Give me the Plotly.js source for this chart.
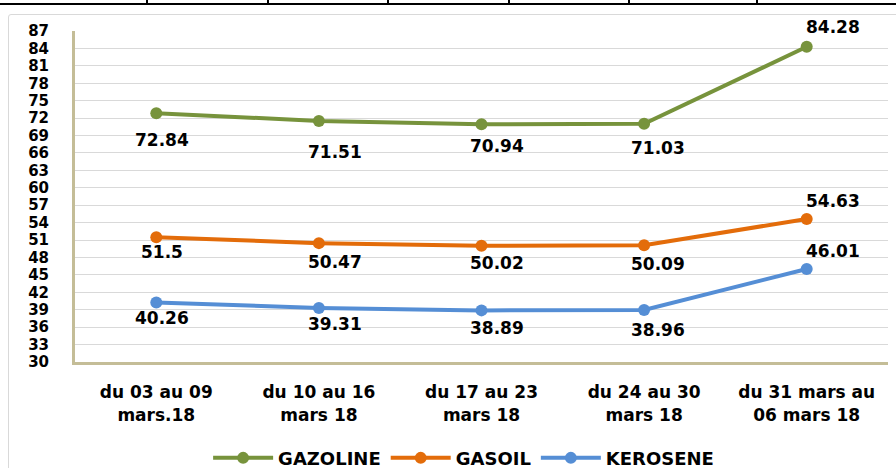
<!DOCTYPE html>
<html>
<head>
<meta charset="utf-8">
<script src="https://cdn.plot.ly/plotly-3.0.1.min.js"></script>
<style>
  html, body { margin:0; padding:0; background:#fff; }
  #wrap { position:relative; width:896px; height:468px; overflow:hidden; }
  #chart { position:absolute; left:0; top:0; width:896px; height:468px; }
  .frame { position:absolute; left:8px; top:14px; width:900px; height:470px; border:1px solid #d9d9d9; border-radius:3px; pointer-events:none; }
  .topline { position:absolute; left:0; top:3px; width:896px; height:2px; background:#000; }
  .tick { position:absolute; top:0; width:2px; height:4px; background:#000; }
</style>
</head>
<body>
<div id="wrap">
  <div class="topline"></div>
  <div class="tick" style="left:146px"></div>
  <div class="tick" style="left:267px"></div>
  <div class="tick" style="left:387px"></div>
  <div class="tick" style="left:508px"></div>
  <div class="tick" style="left:628px"></div>
  <div class="tick" style="left:756px"></div>
  <div class="frame"></div>
  <div id="chart"></div>
</div>
<script>
// ---- data ----
var categories = [
  "du 03 au 09<br>mars.18",
  "du 10 au 16<br>mars 18",
  "du 17 au 23<br>mars 18",
  "du 24 au 30<br>mars 18",
  "du 31 mars au<br>06 mars 18"
];
var gazoline = [72.84, 71.51, 70.94, 71.03, 84.28];
var gasoil   = [51.5, 50.47, 50.02, 50.09, 54.63];
var kerosene = [40.26, 39.31, 38.89, 38.96, 46.01];
var yTickValues = [30,33,36,39,42,45,48,51,54,57,60,63,66,69,72,75,78,81,84,87];

// ---- styling ----
var FONT = "DejaVu Sans, sans-serif";
var series = [
  {name:"GAZOLINE", y:gazoline, color:"#77933c", yshift:[-27,-31,-22,-24,20]},
  {name:"GASOIL",   y:gasoil,   color:"#e36c0a", yshift:[-15,-19,-17,-19,18]},
  {name:"KEROSENE", y:kerosene, color:"#558ed5", yshift:[-16,-16,-18,-20,18]}
];
var xshift = [6, 16, 15, 14, 26];

var traces = series.map(function(s){
  return {
    type:"scatter", mode:"lines+markers", name:s.name,
    x:categories, y:s.y,
    line:{color:s.color, width:4},
    marker:{color:s.color, size:12},
    hoverinfo:"skip"
  };
});

var annotations = [];
series.forEach(function(s){
  s.y.forEach(function(v, i){
    annotations.push({
      x:categories[i], y:v, xref:"x", yref:"y",
      text:String(v), showarrow:false,
      xshift:xshift[i], yshift:s.yshift[i],
      font:{family:FONT, size:17, color:"#000", weight:"bold"}
    });
  });
});

var layout = {
  width:896, height:468,
  margin:{l:75, r:8, t:31, b:106, autoexpand:false},
  paper_bgcolor:"rgba(0,0,0,0)",
  plot_bgcolor:"#fff",
  showlegend:true,
  legend:{
    orientation:"h", x:0.478, xanchor:"center",
    yref:"container", y:0.021, yanchor:"middle",
    font:{family:FONT, size:18, color:"#000", weight:"bold"},
    itemwidth:60, tracegroupgap:0
  },
  xaxis:{
    type:"category", automargin:false,
    showgrid:false, zeroline:false,
    showline:true, linecolor:"#c4bd97", linewidth:3,
    ticks:"", ticklabelstandoff:13,
    tickfont:{family:FONT, size:17, color:"#000", weight:"bold"},
    range:[-0.5, 4.5]
  },
  yaxis:{
    range:[30, 87], tickmode:"array", tickvals:yTickValues,
    ticktext:yTickValues.map(String), automargin:false,
    showgrid:true, gridcolor:"#d9d9d9", gridwidth:1,
    zeroline:false,
    showline:true, linecolor:"#c4bd97", linewidth:3,
    ticks:"", ticklabelstandoff:20,
    tickfont:{family:FONT, size:15, color:"#000", weight:"bold"}
  },
  annotations:annotations
};

Plotly.newPlot("chart", traces, layout, {displayModeBar:false, staticPlot:true});
</script>
</body>
</html>
